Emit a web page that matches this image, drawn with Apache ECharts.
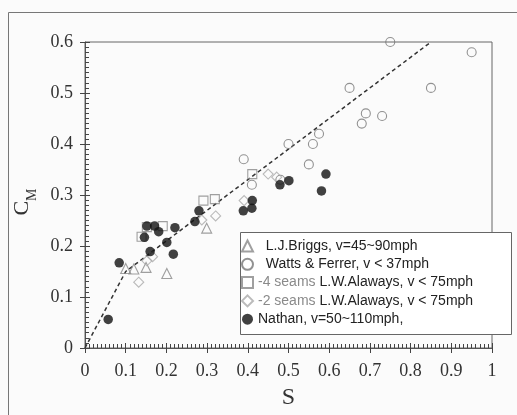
<!DOCTYPE html>
<html>
<head>
<meta charset="utf-8">
<script src="https://cdn.jsdelivr.net/npm/echarts@6/dist/echarts.min.js"></script>
<style>html,body{margin:0;padding:0;background:#fbfbfb;}#c{width:517px;height:415px;}</style>
</head>
<body>
<div id="c"></div>
<script>
// ---- data ----
const briggsS = [0.100, 0.120, 0.150, 0.201, 0.299];
const briggsC = [0.156, 0.155, 0.158, 0.146, 0.235];

const wattsS = [0.39, 0.41, 0.48, 0.50, 0.55, 0.56, 0.575, 0.65, 0.68, 0.69, 0.73, 0.75, 0.85, 0.95];
const wattsC = [0.37, 0.32, 0.33, 0.40, 0.36, 0.40, 0.42, 0.51, 0.44, 0.46, 0.455, 0.60, 0.51, 0.58];

const seams4S = [0.139, 0.152, 0.191, 0.291, 0.319, 0.411];
const seams4C = [0.218, 0.237, 0.239, 0.289, 0.292, 0.341];

const seams2S = [0.132, 0.152, 0.166, 0.287, 0.321, 0.391, 0.450, 0.471];
const seams2C = [0.129, 0.171, 0.179, 0.251, 0.259, 0.289, 0.341, 0.335];

const nathanS = [0.057, 0.084, 0.146, 0.152, 0.171, 0.181, 0.160, 0.201, 0.221, 0.217, 0.270, 0.280, 0.389, 0.410, 0.411, 0.479, 0.501, 0.581, 0.592];
const nathanC = [0.056, 0.167, 0.217, 0.239, 0.239, 0.228, 0.189, 0.207, 0.236, 0.184, 0.248, 0.269, 0.269, 0.274, 0.289, 0.320, 0.328, 0.308, 0.341];

const fitS = [0, 0.1, 0.85];
const fitC = [0, 0.15, 0.6];

const seriesNames = [
  'L.J.Briggs, v=45~90mph',
  'Watts & Ferrer, v < 37mph',
  '-4 seams L.W.Alaways, v < 75mph',
  '-2 seams L.W.Alaways, v < 75mph',
  'Nathan, v=50~110mph,'
];
const xTicks = [0, 0.1, 0.2, 0.3, 0.4, 0.5, 0.6, 0.7, 0.8, 0.9, 1];
const yTicks = [0, 0.1, 0.2, 0.3, 0.4, 0.5, 0.6];

const zip = (a, b) => a.map((v, i) => [v, b[i]]);

const chart = echarts.init(document.getElementById('c'), null, {renderer: 'canvas'});
const serif = 'Liberation Serif';
const sans = 'Liberation Sans';

function hollow(name, symbol, size, color, data) {
  return {
    name, type: 'scatter', symbol, symbolSize: size, data,
    itemStyle: {color: 'rgba(255,255,255,0)', borderColor: color, borderWidth: 1.1},
    z: 3
  };
}

const fmt = v => String(Math.round(v * 10) / 10);

const option = {
  backgroundColor: '#fbfbfb',
  animation: false,
  grid: {left: 85, top: 42, right: 25, bottom: 67, show: true, borderColor: '#666', borderWidth: 1, backgroundColor: 'transparent'},
  graphic: [
    {type: 'rect', shape: {x: 8.5, y: 12.5, width: 530, height: 430}, style: {fill: 'none', stroke: '#777', lineWidth: 1}, z: 0, silent: true},
    {type: 'rect', shape: {x: 240.5, y: 232.5, width: 271, height: 102}, style: {fill: '#ffffff', stroke: '#666', lineWidth: 1}, z: 50, silent: true}
  ],
  xAxis: [{
    type: 'value', position: 'bottom', min: xTicks[0], max: xTicks[xTicks.length - 1], interval: 0.1,
    name: 'S', nameLocation: 'middle', nameGap: 38,
    nameTextStyle: {fontFamily: serif, fontSize: 24, color: '#333'},
    axisLine: {show: true, lineStyle: {color: '#555'}},
    axisTick: {show: true, inside: true, length: 5, lineStyle: {color: '#444', width: 1}},
    minorTick: {show: true, splitNumber: 10, length: 4, lineStyle: {color: '#444', width: 1}},
    splitLine: {show: false},
    axisLabel: {fontFamily: serif, fontSize: 18, color: '#333', margin: 14, formatter: fmt}
  }, {
    type: 'value', position: 'bottom', offset: 0, min: xTicks[0], max: xTicks[xTicks.length - 1], interval: 0.1,
    axisLine: {show: false},
    axisTick: {show: true, inside: false, length: 5, lineStyle: {color: '#444', width: 1}},
    minorTick: {show: false}, splitLine: {show: false}, axisLabel: {show: false}
  }],
  yAxis: [{
    type: 'value', position: 'left', min: yTicks[0], max: yTicks[yTicks.length - 1], interval: 0.1,
    name: '{c|C}{m|M}', nameLocation: 'middle', nameGap: 52, nameRotate: 90,
    nameTextStyle: {
      padding: [0, 14, 0, 0],
      rich: {
        c: {fontFamily: serif, fontSize: 22, lineHeight: 22, color: '#333', verticalAlign: 'top'},
        m: {fontFamily: serif, fontSize: 14, lineHeight: 14, color: '#333', verticalAlign: 'top', padding: [14, 0, 0, 0]}
      }
    },
    axisLine: {show: true, lineStyle: {color: '#555'}},
    axisTick: {show: true, inside: true, length: 5, lineStyle: {color: '#444', width: 1}},
    minorTick: {show: true, splitNumber: 10, length: 4, lineStyle: {color: '#444', width: 1}},
    splitLine: {show: false},
    axisLabel: {fontFamily: serif, fontSize: 18, color: '#333', margin: 12, formatter: fmt}
  }, {
    type: 'value', position: 'left', offset: 0, min: yTicks[0], max: yTicks[yTicks.length - 1], interval: 0.1,
    axisLine: {show: false},
    axisTick: {show: true, inside: false, length: 5, lineStyle: {color: '#444', width: 1}},
    minorTick: {show: false}, splitLine: {show: false}, axisLabel: {show: false}
  }],
  legend: {
    orient: 'vertical', left: 241, top: 238, padding: 0, itemGap: 2.3,
    itemWidth: 11, itemHeight: 11, z: 60,
    data: seriesNames,
    formatter: function (name) {
      if (name.charAt(0) === '-') {
        const p = name.indexOf(' L.W');
        return '{g|' + name.slice(0, p) + '}{d|' + name.slice(p) + '}';
      }
      if (name.indexOf('Nathan') === 0) return '{d|' + name + '}';
      return '{d|  ' + name + '}';
    },
    textStyle: {
      fontFamily: sans, fontSize: 14, color: '#222', lineHeight: 16,
      rich: {
        d: {fontFamily: sans, fontSize: 14, color: '#222', lineHeight: 16},
        g: {fontFamily: sans, fontSize: 14, color: '#8a8a8a', lineHeight: 16}
      }
    }
  },
  series: [
    {name: 'fit', type: 'line', data: zip(fitS, fitC), symbol: 'none', silent: true,
      lineStyle: {color: '#333', width: 1.5, type: [4, 3]}, z: 2},
    hollow(seriesNames[0], 'triangle', 10, '#888', zip(briggsS, briggsC)),
    hollow(seriesNames[1], 'circle', 9, '#777', zip(wattsS, wattsC)),
    hollow(seriesNames[2], 'rect', 9, '#888', zip(seams4S, seams4C)),
    hollow(seriesNames[3], 'diamond', 10, '#aaa', zip(seams2S, seams2C)),
    {name: seriesNames[4], type: 'scatter', symbol: 'circle', symbolSize: 9.5,
      data: zip(nathanS, nathanC), itemStyle: {color: '#111'}, z: 4}
  ]
};
chart.setOption(option);
</script>
</body>
</html>
